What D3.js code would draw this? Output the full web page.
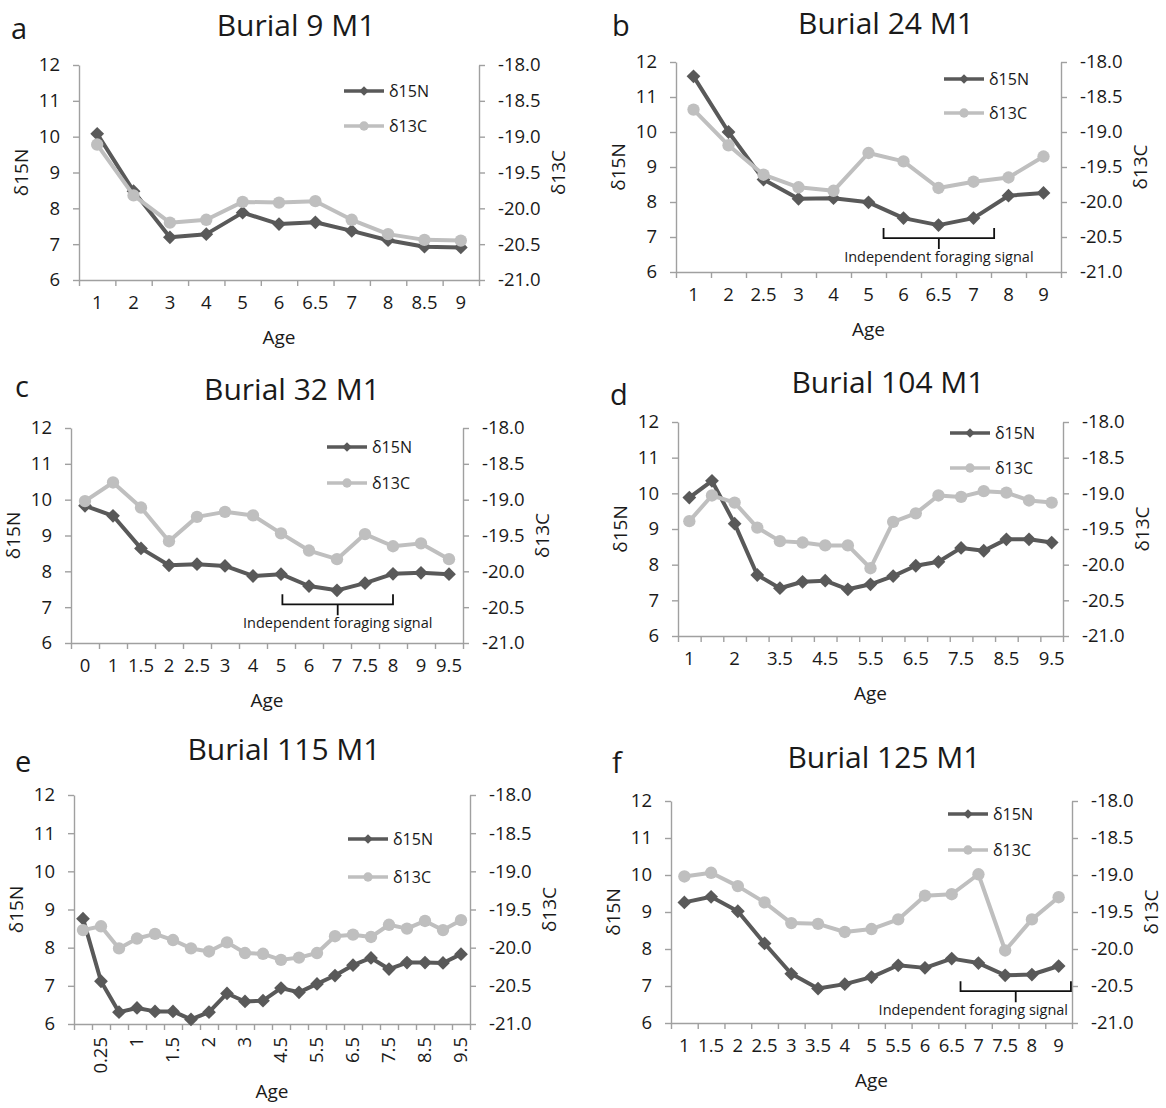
<!DOCTYPE html>
<html>
<head>
<meta charset="utf-8">
<script src="https://cdn.jsdelivr.net/npm/d3@7"></script>
<style>
  body { margin: 0; background: #fff; }
  svg { display: block; }
  text { font-family: "Open Sans", sans-serif; fill: #1a1a1a; }
</style>
</head>
<body>
<script>
// ---- data ----
var ages_a = ["1", "2", "3", "4", "5", "6", "6.5", "7", "8", "8.5", "9"];
var n15_a = [10.08, 8.48, 7.19, 7.28, 7.88, 7.56, 7.61, 7.37, 7.11, 6.93, 6.91];
var c13_a = [-19.11, -19.82, -20.20, -20.16, -19.91, -19.92, -19.90, -20.16, -20.36, -20.44, -20.45];

var ages_b = ["1", "2", "2.5", "3", "4", "5", "6", "6.5", "7", "8", "9"];
var n15_b = [11.59, 10.0, 8.64, 8.09, 8.11, 7.99, 7.54, 7.34, 7.54, 8.18, 8.26];
var c13_b = [-18.68, -19.19, -19.61, -19.79, -19.84, -19.30, -19.42, -19.80, -19.71, -19.65, -19.35];

var ages_c = ["0", "1", "1.5", "2", "2.5", "3", "4", "5", "6", "7", "7.5", "8", "9", "9.5"];
var n15_c = [9.83, 9.55, 8.64, 8.17, 8.20, 8.15, 7.87, 7.92, 7.59, 7.47, 7.67, 7.93, 7.96, 7.92];
var c13_c = [-19.02, -18.76, -19.11, -19.58, -19.24, -19.17, -19.22, -19.47, -19.71, -19.83, -19.48, -19.65, -19.61, -19.83];

var ages_d = ["1", "1.5", "2", "3", "3.5", "4", "4.5", "5", "5.5", "6", "6.5", "7", "7.5", "8", "8.5", "9", "9.5"];
var n15_d = [9.88, 10.35, 9.15, 7.71, 7.34, 7.52, 7.55, 7.31, 7.45, 7.68, 7.97, 8.08, 8.47, 8.39, 8.71, 8.71, 8.62];
var c13_d = [-19.39, -19.03, -19.13, -19.48, -19.67, -19.69, -19.73, -19.73, -20.05, -19.40, -19.28, -19.03, -19.05, -18.97, -18.99, -19.10, -19.13];

var ages_e = ["0", "0.25", "0.5", "1", "1.25", "1.5", "1.75", "2", "2.5", "3", "4", "4.5", "5", "5.5", "6", "6.5", "7", "7.5", "8", "8.5", "9", "9.5"];
var n15_e = [8.76, 7.12, 6.31, 6.42, 6.33, 6.33, 6.12, 6.31, 6.80, 6.59, 6.61, 6.94, 6.83, 7.05, 7.27, 7.54, 7.73, 7.44, 7.61, 7.61, 7.60, 7.83];
var c13_e = [-19.77, -19.72, -20.01, -19.88, -19.82, -19.90, -20.01, -20.05, -19.93, -20.07, -20.08, -20.16, -20.13, -20.07, -19.85, -19.83, -19.86, -19.70, -19.75, -19.65, -19.77, -19.64];

var ages_f = ["1", "1.5", "2", "2.5", "3", "3.5", "4", "5", "5.5", "6", "6.5", "7", "7.5", "8", "9"];
var n15_f = [9.26, 9.41, 9.02, 8.15, 7.33, 6.93, 7.05, 7.24, 7.56, 7.49, 7.74, 7.62, 7.29, 7.31, 7.54];
var c13_f = [-19.02, -18.97, -19.15, -19.37, -19.65, -19.66, -19.77, -19.73, -19.60, -19.28, -19.26, -18.99, -20.02, -19.60, -19.30];

var n15Ticks = [6, 7, 8, 9, 10, 11, 12];
var c13Ticks = [-21, -20.5, -20, -19.5, -19, -18.5, -18];
var bracketText = "Independent foraging signal";

// ---- layout of each panel ----
var panels = [
  {id: "a", title: "Burial 9 M1", ages: ages_a, n15: n15_a, c13: c13_a,
   L: 79, T: 65, R: 479, B: 280, titleX: 296, titleY: 36, letterX: 11, letterY: 39,
   legX: 344, legY: 91, legGap: 35, every: 1, start: 0},
  {id: "b", title: "Burial 24 M1", ages: ages_b, n15: n15_b, c13: c13_b,
   L: 676, T: 62, R: 1061, B: 272, titleX: 886, titleY: 34, letterX: 612, letterY: 36,
   legX: 944, legY: 79, legGap: 34, every: 1, start: 0,
   bracket: {from: 5.93, to: 9.09, level: 6.97, anchor: "middle"}},
  {id: "c", title: "Burial 32 M1", ages: ages_c, n15: n15_c, c13: c13_c,
   L: 71, T: 428, R: 463, B: 643, titleX: 292, titleY: 400, letterX: 15, letterY: 397,
   legX: 327, legY: 447, legGap: 36, every: 1, start: 0,
   bracket: {from: 7.55, to: 11.5, level: 7.08, anchor: "middle"}},
  {id: "d", title: "Burial 104 M1", ages: ages_d, n15: n15_d, c13: c13_d,
   L: 678, T: 422, R: 1063, B: 636, titleX: 888, titleY: 393, letterX: 610, letterY: 405,
   legX: 950, legY: 433, legGap: 35, every: 2, start: 0},
  {id: "e", title: "Burial 115 M1", ages: ages_e, n15: n15_e, c13: c13_e,
   L: 74, T: 795, R: 470, B: 1024, titleX: 284, titleY: 760, letterX: 15, letterY: 772,
   legX: 348, legY: 839, legGap: 38, every: 2, start: 1, rotate: true, ageY: 1098},
  {id: "f", title: "Burial 125 M1", ages: ages_f, n15: n15_f, c13: c13_f,
   L: 671, T: 801, R: 1072, B: 1023, titleX: 884, titleY: 768, letterX: 612, letterY: 773,
   legX: 948, legY: 814, legGap: 36, every: 1, start: 0,
   bracket: {from: 10.83, to: 14.96, level: 6.86, anchor: "end"}}
];

var darkCol = "#595959", lightCol = "#bfbfbf", axisCol = "#a0a0a0";

var svg = d3.select("body").append("svg")
  .attr("width", 1166).attr("height", 1108);

var diamond = d3.symbol().type(d3.symbolSquare);
var circle = d3.symbol().type(d3.symbolCircle);

panels.forEach(function(p) {
  var g = svg.append("g").attr("class", "panel-" + p.id);
  var n = p.ages.length;

  var xBand = d3.scaleBand().domain(p.ages).range([p.L, p.R]).padding(0);
  var xIdx = d3.scaleLinear().domain([0, n]).range([p.L, p.R]);
  var yN = d3.scaleLinear().domain([6, 12]).range([p.B, p.T]);
  var yC = d3.scaleLinear().domain([-21, -18]).range([p.B, p.T]);
  var cx = function(i) { return xBand(p.ages[i]) + xBand.bandwidth() / 2; };

  // letter + title
  g.append("text").attr("x", p.letterX).attr("y", p.letterY)
    .style("font-size", "29px").text(p.id);
  g.append("text").attr("x", p.titleX).attr("y", p.titleY)
    .attr("text-anchor", "middle").style("font-size", "30px").text(p.title);

  // axes
  var axL = g.append("g").attr("transform", "translate(" + p.L + ",0)")
    .call(d3.axisLeft(yN).tickValues(n15Ticks).tickSize(6).tickPadding(13).tickSizeOuter(0)
      .tickFormat(d3.format("d")));
  var axR = g.append("g").attr("transform", "translate(" + p.R + ",0)")
    .call(d3.axisRight(yC).tickValues(c13Ticks).tickSize(6).tickPadding(13).tickSizeOuter(0)
      .tickFormat(function(d) { return d.toFixed(1); }));
  var axB = g.append("g").attr("transform", "translate(0," + p.B + ")")
    .call(d3.axisBottom(xIdx).tickValues(d3.range(n + 1)).tickSize(6).tickFormat("").tickSizeOuter(0));

  var shown = p.ages.filter(function(a, i) { return i >= p.start && (i - p.start) % p.every === 0; });
  var axLab = g.append("g").attr("transform", "translate(0," + p.B + ")")
    .call(d3.axisBottom(xBand).tickValues(shown).tickSize(0).tickPadding(p.rotate ? 13 : 16));
  axLab.select(".domain").remove();
  if (p.rotate) {
    axLab.selectAll(".tick text")
      .attr("transform", "rotate(-90)")
      .attr("text-anchor", "end")
      .attr("x", -13).attr("y", 0).attr("dy", "0.35em");
  }

  [axL, axR, axB].forEach(function(a) {
    a.selectAll(".domain, .tick line").attr("stroke", axisCol).attr("stroke-width", 1.4);
  });
  [axL, axR, axLab].forEach(function(a) {
    a.selectAll(".tick text").style("font-size", "18.5px").style("font-family", '"Open Sans", sans-serif').attr("fill", "#1a1a1a");
  });

  // axis titles
  var midY = (p.T + p.B) / 2;
  g.append("text").attr("transform", "translate(" + (p.L - 58) + "," + midY + ") rotate(-90)")
    .attr("text-anchor", "middle").attr("dy", "0.35em").style("font-size", "19px").text("δ15N");
  g.append("text").attr("transform", "translate(" + (p.R + 79) + "," + midY + ") rotate(-90)")
    .attr("text-anchor", "middle").attr("dy", "0.35em").style("font-size", "19px").text("δ13C");
  g.append("text").attr("x", (p.L + p.R) / 2).attr("y", p.ageY || p.B + 64)
    .attr("text-anchor", "middle").style("font-size", "19px").text("Age");

  // series
  var lineN = d3.line().x(function(d, i) { return cx(i); }).y(function(d) { return yN(d); });
  var lineC = d3.line().x(function(d, i) { return cx(i); }).y(function(d) { return yC(d); });

  g.append("path").datum(p.n15).attr("d", lineN)
    .attr("fill", "none").attr("stroke", darkCol).attr("stroke-width", 4).attr("stroke-linejoin", "round");
  g.selectAll(".mN").data(p.n15).enter().append("path").attr("class", "mN")
    .attr("d", diamond.size(95))
    .attr("transform", function(d, i) { return "translate(" + cx(i) + "," + yN(d) + ") rotate(45)"; })
    .attr("fill", darkCol);

  g.append("path").datum(p.c13).attr("d", lineC)
    .attr("fill", "none").attr("stroke", lightCol).attr("stroke-width", 4).attr("stroke-linejoin", "round");
  g.selectAll(".mC").data(p.c13).enter().append("path").attr("class", "mC")
    .attr("d", circle.size(120))
    .attr("transform", function(d, i) { return "translate(" + cx(i) + "," + yC(d) + ")"; })
    .attr("fill", lightCol);

  // legend
  var leg = [{name: "δ15N", col: darkCol, sym: diamond.size(45), rot: 45},
             {name: "δ13C", col: lightCol, sym: circle.size(70), rot: 0}];
  leg.forEach(function(s, k) {
    var ly = p.legY + k * p.legGap;
    g.append("line").attr("x1", p.legX).attr("x2", p.legX + 40).attr("y1", ly).attr("y2", ly)
      .attr("stroke", s.col).attr("stroke-width", 3.5);
    g.append("path").attr("d", s.sym)
      .attr("transform", "translate(" + (p.legX + 20) + "," + ly + ") rotate(" + s.rot + ")")
      .attr("fill", s.col);
    g.append("text").attr("x", p.legX + 45).attr("y", ly).attr("dy", "0.35em")
      .style("font-size", "16px").text(s.name);
  });

  // bracket annotation
  if (p.bracket) {
    var bk = p.bracket;
    var step = xBand.step();
    var x1 = p.L + bk.from * step, x2 = p.L + bk.to * step, xm = (x1 + x2) / 2;
    var yh = yN(bk.level);
    g.append("path")
      .attr("d", "M" + x1 + "," + (yh - 10) + "V" + yh + "H" + x2 + "V" + (yh - 10) +
                 "M" + xm + "," + yh + "V" + (yh + 11))
      .attr("fill", "none").attr("stroke", "#111").attr("stroke-width", 1.8);
    g.append("text")
      .attr("x", bk.anchor === "end" ? p.R - 4 : xm)
      .attr("y", yh + 24)
      .attr("text-anchor", bk.anchor)
      .style("font-size", "14.5px").text(bracketText);
  }
});
</script>
</body>
</html>
